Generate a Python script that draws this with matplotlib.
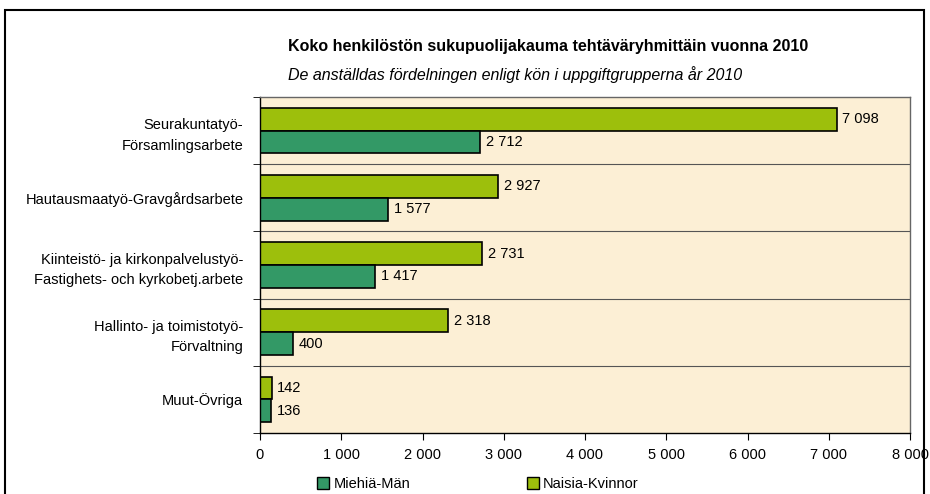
import matplotlib.pyplot as plt
from matplotlib.patches import Rectangle, Patch
from matplotlib import font_manager

names = {f.name for f in font_manager.fontManager.ttflist}
font = "Liberation Sans Narrow" if "Liberation Sans Narrow" in names else "Liberation Sans"
plt.rcParams["font.family"] = [font, "DejaVu Sans"]

categories = ["Seurakuntatyö-\nFörsamlingsarbete",
              "Hautausmaatyö-Gravgårdsarbete",
              "Kiinteistö- ja kirkonpalvelustyö-\nFastighets- och kyrkobetj.arbete",
              "Hallinto- ja toimistotyö-\nFörvaltning",
              "Muut-Övriga"]
naisia = [7098, 2927, 2731, 2318, 142]
miehia = [2712, 1577, 1417, 400, 136]
xticks = [0, 1000, 2000, 3000, 4000, 5000, 6000, 7000, 8000]

c_nais = "#9dbf0c"
c_mies = "#339966"

def fmt(v):
    return f"{v:,}".replace(",", " ")

fig = plt.figure(figsize=(9.3, 4.94), dpi=100)
ax = fig.add_axes([260/930, 1 - 433/494, 650/930, 336/494])
ax.set_facecolor("#fcefd5")

pos = list(range(len(categories)))
h = 0.34
ax.barh([p - h/2 for p in pos], naisia, height=h, color=c_nais, edgecolor="black", linewidth=1.2)
ax.barh([p + h/2 for p in pos], miehia, height=h, color=c_mies, edgecolor="black", linewidth=1.2)

for p, v in zip(pos, naisia):
    ax.text(v + 70, p - h/2, fmt(v), va="center", ha="left", fontsize=10.5)
for p, v in zip(pos, miehia):
    ax.text(v + 70, p + h/2, fmt(v), va="center", ha="left", fontsize=10.5)

for b in [0.5, 1.5, 2.5, 3.5]:
    ax.axhline(b, color="#555555", linewidth=0.8)

ax.set_ylim(4.5, -0.5)
ax.set_xlim(0, 8000)
ax.set_yticks(pos)
ax.set_yticklabels(categories, fontsize=10.5, linespacing=1.6)
ax.set_yticks([-0.5, 0.5, 1.5, 2.5, 3.5, 4.5], minor=True)
ax.tick_params(axis="y", which="major", length=0, pad=12)
ax.tick_params(axis="y", which="minor", length=5, direction="out")
ax.set_xticks(xticks)
ax.set_xticklabels([fmt(t) for t in xticks], fontsize=10.5)
ax.tick_params(axis="x", length=5, direction="out", pad=6)
for s in ax.spines.values():
    s.set_color("#666666")
    s.set_linewidth(1)
ax.spines["left"].set_color("black")
ax.spines["bottom"].set_color("black")

fig.text(288/930, 1 - 47/494, "Koko henkilöstön sukupuolijakauma tehtäväryhmittäin vuonna 2010",
         fontsize=11.5, fontweight="bold", va="center", ha="left")
fig.text(288/930, 1 - 75/494, "De anställdas fördelningen enligt kön i uppgiftgrupperna år 2010",
         fontsize=11.5, style="italic", va="center", ha="left")

handles = [Patch(facecolor=c_mies, edgecolor="black", label="Miehiä-Män"),
           Patch(facecolor=c_nais, edgecolor="black", label="Naisia-Kvinnor")]
fig.legend(handles=handles, loc="center", bbox_to_anchor=(478/930, 1 - 484/494), ncol=2,
           frameon=False, fontsize=10.5, handlelength=0.8, handleheight=0.8,
           handletextpad=0.3, columnspacing=8)

fig.patches.append(Rectangle((5/930, -0.02), 919/930, 1 - 10/494 + 0.02,
                             transform=fig.transFigure, fill=False,
                             edgecolor="black", linewidth=1.5))

fig.savefig("out.png", dpi=100)
